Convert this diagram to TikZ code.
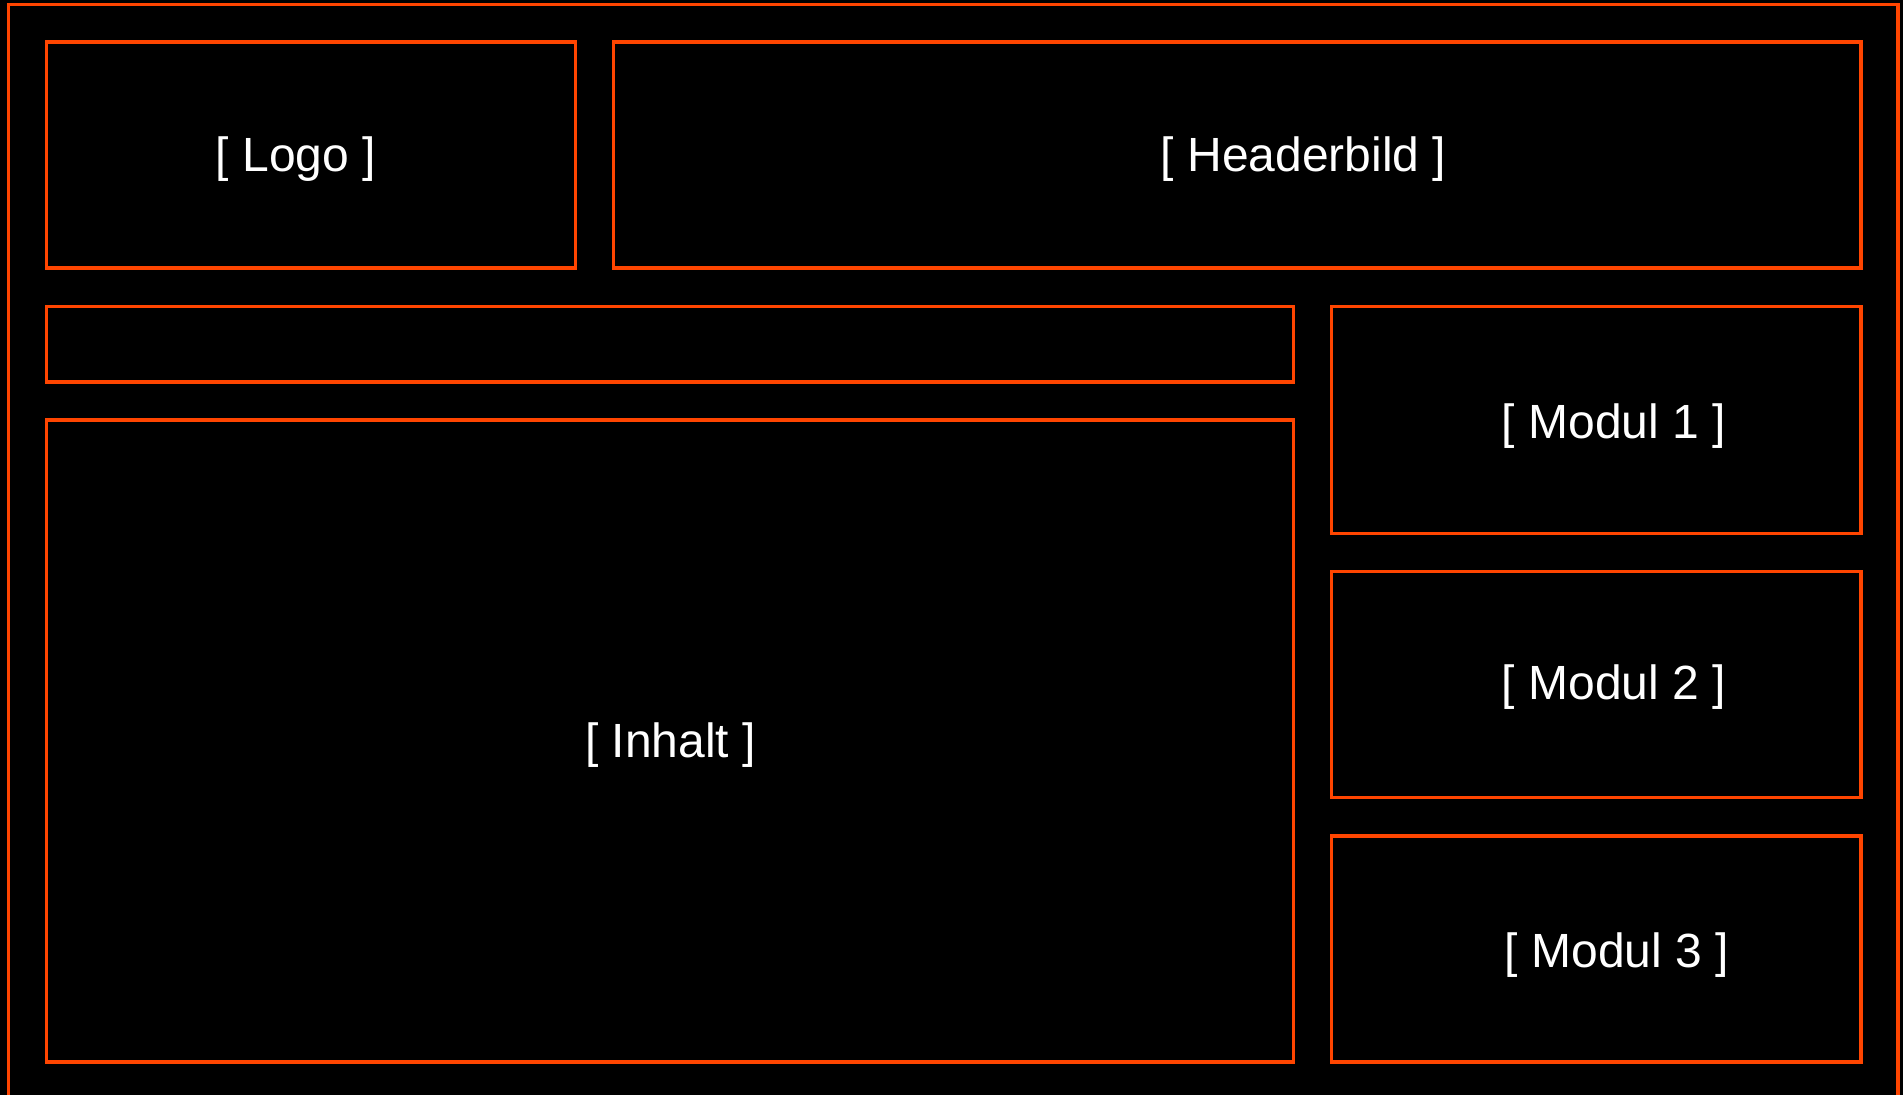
\documentclass[tikz,border=0pt]{standalone}
\usepackage{fontspec}
\setmainfont{Liberation Sans}
\usetikzlibrary{positioning}
\definecolor{cFrame}{HTML}{FF4500}
\definecolor{cBack}{HTML}{000000}

\begin{document}
\begin{tikzpicture}[
  x=0.5pt, y=-0.5pt,
  panel/.style={
    draw=cFrame, line width=1.65pt, anchor=north west,
    inner sep=0pt, outer sep=0pt
  },
  panellabel/.style={
    font=\fontsize{24pt}{28pt}\selectfont, text=white, anchor=base
  },
]
\useasboundingbox[fill=cBack] (0,0) rectangle (1903,1095);
\clip (0,0) rectangle (1903,1095);

% outer frame
\node[panel, minimum width=944.75pt, minimum height=552.75pt] (frame) at (8.5,4.5) {};

% header row
\node[panel, minimum width=264.5pt, minimum height=113pt] (logobox) at (46.5,42) {};
\node[panellabel] (logolabel) at (296,171.5) {[ Logo ]};

\node[panel, minimum width=623.75pt, minimum height=113pt] (headerbox) at (613.5,42) {};
\node[panellabel] (headerlabel) at (1303.5,171.5) {[ Headerbild ]};

% navigation and content
\node[panel, minimum width=623.5pt, minimum height=37.75pt] (navbox) at (46.5,306.5) {};

\node[panel, minimum width=623.5pt, minimum height=321pt] (contentbox) at (46.5,420) {};
\node[panellabel] (contentlabel) at (670.5,758) {[ Inhalt ]};

% sidebar modules
\node[panel, minimum width=264.75pt, minimum height=113.5pt] (modulebox1) at (1331.5,306.5) {};
\node[panellabel] (modulelabel1) at (1614,439) {[ Modul 1 ]};

\node[panel, minimum width=264.75pt, minimum height=113pt] (modulebox2) at (1331.5,571.5) {};
\node[panellabel] (modulelabel2) at (1614,700) {[ Modul 2 ]};

\node[panel, minimum width=264.75pt, minimum height=113pt] (modulebox3) at (1331.5,836) {};
\node[panellabel] (modulelabel3) at (1617,968) {[ Modul 3 ]};

\end{tikzpicture}
\end{document}
